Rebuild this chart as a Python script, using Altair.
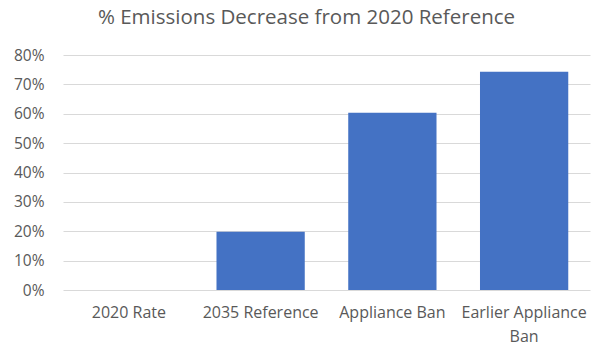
import altair as alt
import pandas as pd

categories = ["2020 Rate", "2035 Reference", "Appliance Ban", "Earlier Appliance Ban"]
values = [0.0, 0.198, 0.603, 0.743]

df = pd.DataFrame({"category": categories, "value": values})

FONT = "Open Sans"
GREY = "#595959"

chart = alt.Chart(df).mark_bar(color="#4472C4").encode(
    x=alt.X(
        "category:N",
        sort=categories,
        title=None,
        scale=alt.Scale(paddingInner=0.33, paddingOuter=0.165),
        axis=alt.Axis(
            labelAngle=0,
            labelFont=FONT,
            labelFontSize=16,
            labelColor=GREY,
            labelPadding=14,
            labelLineHeight=24,
            domain=False,
            ticks=False,
            grid=False,
            labelExpr="datum.label == 'Earlier Appliance Ban' ? ['Earlier Appliance', 'Ban'] : datum.label",
        ),
    ),
    y=alt.Y(
        "value:Q",
        title=None,
        scale=alt.Scale(domain=[0, 0.8], nice=False),
        axis=alt.Axis(
            format="%",
            values=[0, 0.1, 0.2, 0.3, 0.4, 0.5, 0.6, 0.7, 0.8],
            labelFont=FONT,
            labelFontSize=15.5,
            labelColor=GREY,
            labelPadding=19,
            domain=False,
            ticks=False,
            gridColor="#d9d9d9",
            gridWidth=1,
        ),
    ),
).properties(
    width=527,
    height=235,
    title=alt.TitleParams(
        "% Emissions Decrease from 2020 Reference",
        font=FONT,
        fontSize=20.5,
        fontWeight="normal",
        color=GREY,
        anchor="middle",
        dx=-20,
        offset=20,
    ),
    autosize=alt.AutoSizeParams(type="none"),
    padding={"left": 63, "top": 55, "right": 11, "bottom": 58},
).configure_view(stroke=None)

chart.save("out.html", embed_options={"renderer": "svg", "actions": False})
